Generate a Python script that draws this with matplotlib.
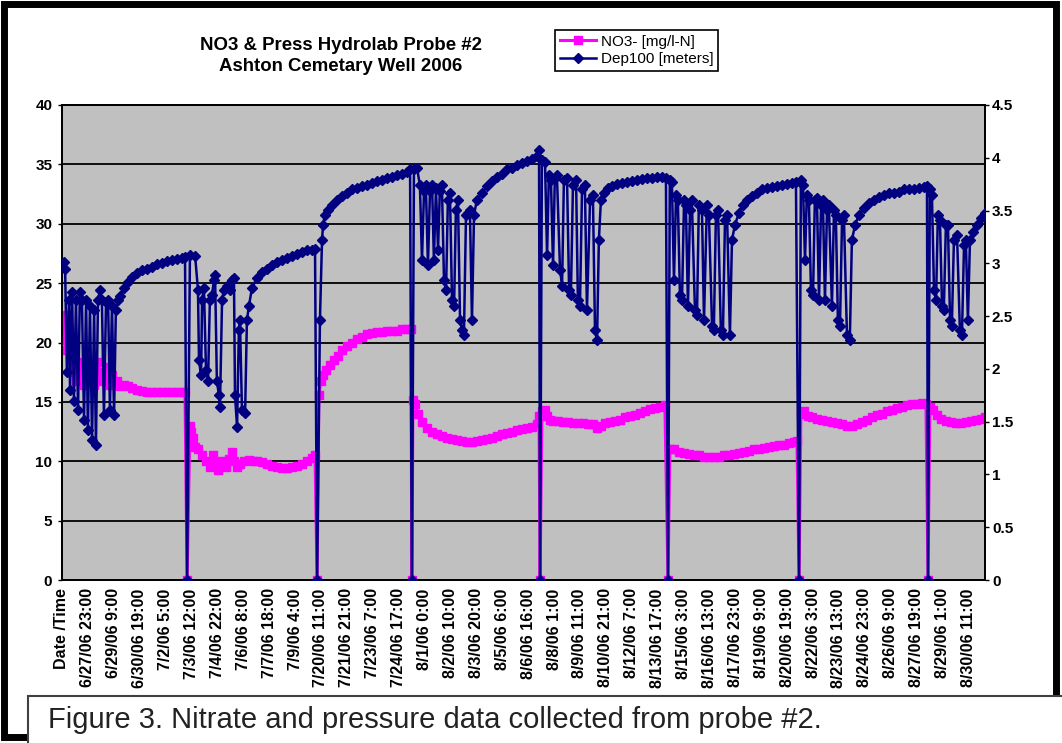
import matplotlib.pyplot as plt
from matplotlib.lines import Line2D
from matplotlib.patches import Rectangle

plt.rcParams['font.family'] = ['Liberation Sans', 'DejaVu Sans']

# category labels of the x axis (one every 34 records)
x_labels = ["Date /Time", "6/27/06 23:00", "6/29/06 9:00", "6/30/06 19:00", "7/2/06 5:00",
            "7/3/06 12:00", "7/4/06 22:00", "7/6/06 8:00", "7/7/06 18:00", "7/9/06 4:00",
            "7/20/06 11:00", "7/21/06 21:00", "7/23/06 7:00", "7/24/06 17:00", "8/1/06 0:00",
            "8/2/06 10:00", "8/3/06 20:00", "8/5/06 6:00", "8/6/06 16:00", "8/8/06 1:00",
            "8/9/06 11:00", "8/10/06 21:00", "8/12/06 7:00", "8/13/06 17:00", "8/15/06 3:00",
            "8/16/06 13:00", "8/17/06 23:00", "8/19/06 9:00", "8/20/06 19:00", "8/22/06 3:00",
            "8/23/06 13:00", "8/24/06 23:00", "8/26/06 9:00", "8/27/06 19:00", "8/29/06 1:00",
            "8/30/06 11:00"]

left_ticks = [0, 5, 10, 15, 20, 25, 30, 35, 40]
right_ticks = [0, 0.5, 1, 1.5, 2, 2.5, 3, 3.5, 4, 4.5]

# (category position, Dep100 [meters])
depth_pts = [
    (0.08, 3.01), (0.12, 2.95), (0.19, 1.97), (0.27, 2.65), (0.31, 1.80), (0.39, 2.73), (0.46, 1.70),
    (0.54, 2.65), (0.62, 1.61), (0.69, 2.73), (0.77, 2.65), (0.85, 1.52), (0.93, 2.65), (1.00, 1.42),
    (1.08, 2.60), (1.16, 1.33), (1.24, 2.56), (1.31, 1.28), (1.39, 2.65), (1.47, 2.75), (1.54, 2.65),
    (1.62, 1.56), (1.70, 2.63), (1.78, 2.65), (1.85, 1.61), (1.93, 2.60), (2.01, 1.56), (2.08, 2.56),
    (2.16, 2.65), (2.24, 2.69), (2.39, 2.77), (2.55, 2.82), (2.70, 2.87), (2.90, 2.91), (3.09, 2.94),
    (3.28, 2.95), (3.47, 2.97), (3.67, 2.99), (3.86, 3.00), (4.05, 3.02), (4.25, 3.03), (4.44, 3.04),
    (4.63, 3.05), (4.75, 3.06),
    (4.83, 0.0),
    (4.94, 3.08), (5.14, 3.07), (5.25, 2.75), (5.29, 2.08), (5.37, 1.94), (5.41, 2.65), (5.48, 2.77),
    (5.56, 1.99), (5.64, 1.89), (5.71, 2.65), (5.79, 2.70), (5.87, 2.84), (5.91, 2.89), (5.98, 1.89),
    (6.06, 1.75), (6.10, 1.64), (6.18, 2.65), (6.25, 2.75), (6.37, 2.79), (6.49, 2.75), (6.56, 2.84),
    (6.64, 2.86), (6.68, 1.75), (6.76, 1.45), (6.83, 2.37), (6.87, 2.46), (6.95, 1.61), (7.07, 1.58),
    (7.14, 2.46), (7.22, 2.60), (7.34, 2.77), (7.53, 2.86), (7.72, 2.92), (7.92, 2.95), (8.11, 2.98),
    (8.30, 3.01), (8.49, 3.03), (8.69, 3.05), (8.88, 3.07), (9.07, 3.09), (9.27, 3.11), (9.46, 3.13),
    (9.65, 3.13), (9.77, 3.14),
    (9.85, 0.0),
    (9.96, 2.46), (10.04, 3.22), (10.08, 3.36), (10.15, 3.46), (10.27, 3.51), (10.42, 3.55), (10.62, 3.60),
    (10.81, 3.64), (11.00, 3.67), (11.20, 3.70), (11.39, 3.71), (11.58, 3.73), (11.78, 3.74), (11.97, 3.76),
    (12.16, 3.78), (12.36, 3.79), (12.55, 3.81), (12.74, 3.82), (12.93, 3.84), (13.13, 3.85), (13.32, 3.87),
    (13.44, 3.89),
    (13.51, 0.0),
    (13.59, 3.89), (13.71, 3.90), (13.82, 3.74), (13.90, 3.03), (13.98, 3.69), (14.05, 3.74), (14.13, 2.98),
    (14.21, 3.69), (14.29, 3.74), (14.36, 3.03), (14.44, 3.71), (14.52, 3.13), (14.59, 3.69), (14.67, 3.74),
    (14.75, 2.84), (14.83, 2.75), (14.90, 3.60), (14.98, 3.67), (15.06, 2.65), (15.14, 2.60), (15.21, 3.51),
    (15.29, 3.60), (15.37, 2.46), (15.44, 2.37), (15.52, 2.32), (15.60, 3.46), (15.68, 3.48), (15.75, 3.51),
    (15.83, 2.46), (15.91, 3.46), (16.02, 3.60), (16.22, 3.67), (16.41, 3.73), (16.60, 3.78), (16.80, 3.82),
    (16.99, 3.85), (17.18, 3.89), (17.37, 3.90), (17.57, 3.93), (17.76, 3.95), (17.95, 3.97), (18.15, 3.99),
    (18.34, 4.02), (18.42, 4.07),
    (18.46, 0.0),
    (18.53, 3.98), (18.65, 3.96), (18.73, 3.08), (18.80, 3.84), (18.88, 3.79), (18.96, 2.98), (19.03, 3.81),
    (19.11, 3.84), (19.23, 2.94), (19.31, 2.79), (19.38, 3.79), (19.50, 3.81), (19.58, 2.75), (19.65, 2.70),
    (19.73, 3.74), (19.85, 3.79), (19.92, 2.65), (20.00, 2.60), (20.08, 3.70), (20.19, 3.74), (20.27, 2.56),
    (20.39, 3.60), (20.50, 3.65), (20.58, 2.37), (20.66, 2.27), (20.73, 3.22), (20.81, 3.60), (20.93, 3.67),
    (21.08, 3.71), (21.24, 3.73), (21.43, 3.75), (21.62, 3.76), (21.81, 3.77), (22.01, 3.78), (22.20, 3.79),
    (22.39, 3.80), (22.59, 3.81), (22.78, 3.81), (22.97, 3.82), (23.17, 3.82), (23.32, 3.81),
    (23.40, 0.0),
    (23.47, 3.79), (23.55, 3.77), (23.63, 2.84), (23.71, 3.65), (23.78, 3.60), (23.86, 2.70), (23.94, 2.65),
    (24.02, 3.60), (24.09, 3.55), (24.17, 2.60), (24.25, 3.51), (24.32, 3.60), (24.44, 2.56), (24.52, 2.51),
    (24.59, 3.55), (24.71, 3.51), (24.79, 2.46), (24.90, 3.55), (24.98, 3.46), (25.10, 2.41), (25.17, 2.37),
    (25.25, 3.46), (25.33, 3.51), (25.44, 2.37), (25.52, 2.32), (25.60, 3.41), (25.68, 3.46), (25.79, 2.32),
    (25.87, 3.22), (25.98, 3.36), (26.14, 3.48), (26.29, 3.55), (26.45, 3.60), (26.64, 3.64), (26.83, 3.67),
    (27.03, 3.70), (27.22, 3.71), (27.41, 3.72), (27.61, 3.73), (27.80, 3.74), (27.99, 3.75), (28.19, 3.76),
    (28.34, 3.77),
    (28.46, 0.0),
    (28.53, 3.79), (28.61, 3.74), (28.69, 3.03), (28.76, 3.65), (28.84, 3.60), (28.92, 2.75), (29.00, 2.70),
    (29.07, 3.60), (29.15, 3.62), (29.23, 2.65), (29.31, 3.55), (29.38, 3.60), (29.46, 2.65), (29.54, 3.51),
    (29.61, 3.55), (29.73, 2.60), (29.81, 3.51), (29.88, 3.46), (29.96, 2.46), (30.04, 2.41), (30.12, 3.41),
    (30.19, 3.46), (30.31, 2.32), (30.42, 2.27), (30.50, 3.22), (30.62, 3.36), (30.77, 3.46), (30.97, 3.52),
    (31.16, 3.57), (31.35, 3.60), (31.54, 3.63), (31.74, 3.65), (31.93, 3.67), (32.12, 3.67), (32.32, 3.68),
    (32.51, 3.70), (32.70, 3.70), (32.90, 3.70), (33.09, 3.71), (33.28, 3.72), (33.40, 3.73),
    (33.44, 0.0),
    (33.51, 3.70), (33.59, 3.65), (33.67, 2.75), (33.75, 2.65), (33.82, 3.46), (33.90, 3.41), (33.98, 2.60),
    (34.05, 2.56), (34.13, 3.36), (34.21, 3.36), (34.29, 2.46), (34.36, 2.41), (34.44, 3.22), (34.56, 3.27),
    (34.67, 2.37), (34.75, 2.32), (34.83, 3.17), (34.90, 3.22), (34.98, 2.46), (35.06, 3.22), (35.17, 3.30),
    (35.33, 3.36), (35.48, 3.43), (35.64, 3.48),
]

# (category position, NO3- [mg/l-N])
no3_pts = [
    (0.08, 20.2), (0.12, 21.9), (0.15, 19.4), (0.19, 22.3), (0.23, 19.8), (0.27, 21.1), (0.31, 19.4),
    (0.39, 17.5), (0.46, 18.1), (0.54, 16.8), (0.62, 17.5), (0.69, 18.4), (0.77, 17.3), (0.85, 16.4),
    (0.93, 17.5), (1.00, 18.1), (1.08, 16.8), (1.16, 17.5), (1.24, 16.4), (1.31, 17.5), (1.39, 18.4),
    (1.47, 17.3), (1.54, 16.8), (1.62, 17.5), (1.70, 17.9), (1.78, 17.0), (1.85, 16.4), (1.93, 17.3),
    (2.01, 16.7), (2.12, 16.8), (2.24, 16.3), (2.39, 16.4), (2.55, 16.3), (2.70, 16.2), (2.90, 16.0),
    (3.09, 15.9), (3.28, 15.8), (3.47, 15.8), (3.67, 15.8), (3.86, 15.8), (4.05, 15.8), (4.25, 15.8),
    (4.44, 15.8), (4.63, 15.8), (4.75, 15.8),
    (4.83, 0.0),
    (4.94, 13.0), (4.98, 12.5), (5.06, 12.0), (5.14, 11.2), (5.25, 11.0), (5.41, 10.5), (5.56, 10.0),
    (5.71, 9.5), (5.83, 10.5), (5.91, 9.8), (6.02, 9.3), (6.18, 10.0), (6.33, 9.5), (6.45, 10.2),
    (6.56, 10.8), (6.64, 10.0), (6.76, 9.5), (6.87, 9.8), (7.03, 10.0), (7.22, 10.1), (7.37, 10.0),
    (7.53, 10.0), (7.72, 9.9), (7.92, 9.8), (8.11, 9.6), (8.30, 9.5), (8.49, 9.4), (8.69, 9.4),
    (8.88, 9.5), (9.07, 9.6), (9.27, 9.8), (9.46, 10.0), (9.65, 10.3), (9.77, 10.5),
    (9.85, 0.0),
    (9.92, 15.6), (10.00, 16.8), (10.08, 17.3), (10.19, 17.7), (10.35, 18.1), (10.50, 18.5), (10.66, 18.9),
    (10.81, 19.4), (11.00, 19.7), (11.20, 20.0), (11.39, 20.3), (11.58, 20.5), (11.78, 20.7), (11.97, 20.8),
    (12.16, 20.9), (12.36, 20.9), (12.55, 21.0), (12.74, 21.0), (12.93, 21.0), (13.13, 21.1), (13.32, 21.1),
    (13.47, 21.1),
    (13.51, 0.0),
    (13.55, 15.2), (13.63, 14.8), (13.75, 14.0), (13.90, 13.3), (14.09, 12.8), (14.29, 12.5), (14.48, 12.3),
    (14.67, 12.1), (14.86, 12.0), (15.06, 11.9), (15.25, 11.8), (15.44, 11.7), (15.64, 11.6), (15.83, 11.6),
    (16.02, 11.7), (16.22, 11.8), (16.41, 11.9), (16.60, 12.0), (16.80, 12.1), (16.99, 12.3), (17.18, 12.4),
    (17.37, 12.5), (17.57, 12.6), (17.76, 12.7), (17.95, 12.8), (18.15, 12.9), (18.34, 13.1), (18.42, 13.8),
    (18.46, 0.0),
    (18.53, 14.2), (18.65, 14.3), (18.73, 13.8), (18.84, 13.5), (18.96, 13.4), (19.15, 13.4), (19.34, 13.3),
    (19.54, 13.3), (19.73, 13.2), (19.92, 13.2), (20.12, 13.2), (20.31, 13.1), (20.50, 13.1), (20.66, 12.8),
    (20.81, 13.0), (20.97, 13.2), (21.16, 13.3), (21.35, 13.4), (21.54, 13.5), (21.74, 13.7), (21.93, 13.8),
    (22.12, 13.9), (22.32, 14.1), (22.51, 14.2), (22.70, 14.4), (22.90, 14.5), (23.09, 14.6), (23.28, 14.7),
    (23.40, 0.0),
    (23.47, 11.0), (23.63, 11.0), (23.82, 10.8), (24.02, 10.7), (24.21, 10.6), (24.40, 10.5), (24.59, 10.5),
    (24.79, 10.4), (24.98, 10.4), (25.17, 10.4), (25.37, 10.4), (25.56, 10.5), (25.75, 10.5), (25.95, 10.6),
    (26.14, 10.7), (26.33, 10.8), (26.52, 10.9), (26.72, 11.0), (26.91, 11.0), (27.10, 11.1), (27.30, 11.2),
    (27.49, 11.3), (27.68, 11.4), (27.88, 11.4), (28.07, 11.5), (28.26, 11.6), (28.38, 11.7),
    (28.46, 0.0),
    (28.53, 14.0), (28.65, 14.2), (28.80, 13.8), (28.96, 13.7), (29.15, 13.6), (29.34, 13.5), (29.54, 13.4),
    (29.73, 13.3), (29.92, 13.2), (30.12, 13.1), (30.31, 13.0), (30.50, 13.0), (30.69, 13.1), (30.89, 13.3),
    (31.08, 13.5), (31.27, 13.7), (31.47, 13.9), (31.66, 14.0), (31.85, 14.2), (32.05, 14.3), (32.24, 14.5),
    (32.43, 14.6), (32.63, 14.7), (32.82, 14.8), (33.01, 14.8), (33.21, 14.9), (33.36, 14.8),
    (33.44, 0.0),
    (33.51, 14.6), (33.63, 14.3), (33.78, 13.9), (33.94, 13.6), (34.13, 13.4), (34.32, 13.3), (34.52, 13.2),
    (34.71, 13.2), (34.90, 13.3), (35.10, 13.4), (35.29, 13.5), (35.48, 13.6), (35.64, 13.7),
]

dep_x, dep_m = zip(*depth_pts)
no3_x, no3_v = zip(*no3_pts)

W, H = 1062, 743
fig = plt.figure(figsize=(W / 100, H / 100), dpi=100)

# outer black frame of the chart object
fig.patches.append(Rectangle((4 / W, 6 / H), 1052 / W, 733 / H, transform=fig.transFigure,
                             fill=False, edgecolor='black', lw=5, zorder=1))

ax = fig.add_axes([62 / W, 163 / H, 923 / W, 475 / H])
ax.set_facecolor('#c0c0c0')
ax.plot(no3_x, no3_v, color='#ff00ff', lw=2.2, marker='s', ms=6, mec='#ff00ff', zorder=3)
ax.set_xlim(0, 35.64)
ax.set_ylim(0, 40)
ax.set_yticks(left_ticks)
ax.set_yticklabels([str(t) for t in left_ticks], fontweight='bold', fontsize=11)
ax.set_xticks(range(len(x_labels)))
ax.set_xticklabels(x_labels, rotation=90, fontweight='bold', fontsize=11.5)
ax.tick_params(axis='x', length=0, pad=6)
ax.tick_params(axis='y', length=3, width=1, pad=4)
ax.grid(axis='y', color='black', lw=1.3)
ax.set_axisbelow(True)

ax2 = ax.twinx()
ax2.plot(dep_x, dep_m, color='#000080', lw=1.8, marker='D', ms=5, mec='#000080', zorder=4)
ax2.set_ylim(0, 4.5)
ax2.set_yticks(right_ticks)
ax2.set_yticklabels(['%g' % t for t in right_ticks], fontweight='bold', fontsize=11)
ax2.tick_params(axis='y', length=3, width=1, pad=2)

for a in (ax, ax2):
    for s in a.spines.values():
        s.set_color('black')
        s.set_linewidth(1.3)

fig.text(341 / W, 1 - 56 / H, "NO3 & Press Hydrolab Probe #2\nAshton Cemetary Well 2006",
         ha='center', va='center', fontsize=13.4, fontweight='bold', linespacing=1.25)

handles = [Line2D([], [], color='#ff00ff', lw=2.2, marker='s', ms=6),
           Line2D([], [], color='#000080', lw=1.8, marker='D', ms=5)]
leg = fig.legend(handles, ["NO3- [mg/l-N]", "Dep100 [meters]"], loc='upper left',
                 bbox_to_anchor=(555 / W, 1 - 30 / H), frameon=True, fancybox=False,
                 edgecolor='black', framealpha=1, fontsize=11, handlelength=2.4,
                 borderpad=0.3, labelspacing=0.25, handletextpad=0.3, borderaxespad=0)
leg.get_frame().set_linewidth(1.2)

# caption box
fig.patches.append(Rectangle((28 / W, -0.01), 1.0, 54 / H, transform=fig.transFigure,
                             facecolor='white', edgecolor='#404040', lw=1.5, zorder=5))
fig.text(48 / W, 1 - 720 / H, "Figure 3. Nitrate and pressure data collected from probe #2.",
         ha='left', va='center', fontsize=21, color='#222222', zorder=6)

fig.savefig('out.png', dpi=100)
